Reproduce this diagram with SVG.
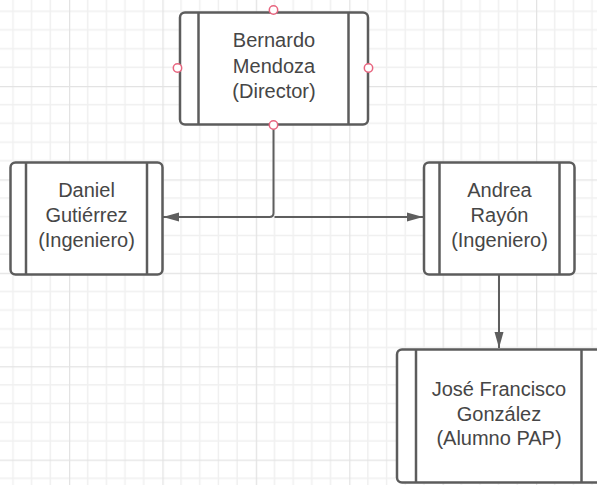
<svg xmlns="http://www.w3.org/2000/svg" width="597" height="485" viewBox="0 0 597 485">
<style>
.box{fill:#ffffff;stroke:#5c5c5c;stroke-width:2.5}
.bar{stroke:#5c5c5c;stroke-width:2.5}
.lbl{font-family:"Liberation Sans",Arial,sans-serif;font-size:20px;fill:#464646;text-anchor:middle}
.conn{fill:none;stroke:#5e5e5e;stroke-width:2}
.pt{fill:#ffffff;stroke:#e8657f;stroke-width:1.5}
</style>
<defs>
<pattern id="grid" patternUnits="userSpaceOnUse" x="69" y="86" width="93.4" height="93.4">
<path d="M18.68 0V93.4M37.36 0V93.4M56.04 0V93.4M74.72 0V93.4M0 18.68H93.4M0 37.36H93.4M0 56.04H93.4M0 74.72H93.4" stroke="#f0f0f0" stroke-width="1.5" fill="none"/>
<path d="M0.5 0V93.4M0 0.5H93.4" stroke="#e3e3e3" stroke-width="1.5" fill="none"/>
</pattern>
<marker id="arr" markerUnits="userSpaceOnUse" markerWidth="18" markerHeight="12" refX="16" refY="5" orient="auto">
<path d="M0,0.5 L16,5 L0,9.5 Z" fill="#5e5e5e"/>
</marker>
</defs>
<rect width="597" height="485" fill="#ffffff"/>
<rect width="597" height="485" fill="url(#grid)"/>

<g id="connectors">
<path class="conn" d="M273.5,125 V213 Q273.5,217 269.5,217 H163" marker-end="url(#arr)"/>
<path class="conn" d="M274.5,217 H423" marker-end="url(#arr)"/>
<path class="conn" d="M499,275 V348" marker-end="url(#arr)"/>
</g>

<g id="director">
<rect class="box" x="180" y="12.5" width="188" height="112" rx="5"/>
<line class="bar" x1="198.5" y1="12.5" x2="198.5" y2="124.5"/>
<line class="bar" x1="348.5" y1="12.5" x2="348.5" y2="124.5"/>
<text class="lbl" x="274" y="47">Bernardo</text>
<text class="lbl" x="274" y="73">Mendoza</text>
<text class="lbl" x="274" y="98">(Director)</text>
<circle class="pt" cx="273.5" cy="10" r="4.2"/>
<circle class="pt" cx="177.5" cy="68" r="4.2"/>
<circle class="pt" cx="368.5" cy="68" r="4.2"/>
<circle class="pt" cx="273.5" cy="125" r="4.2"/>
</g>

<g id="daniel">
<rect class="box" x="10.5" y="162.5" width="152" height="112" rx="5"/>
<line class="bar" x1="26" y1="162.5" x2="26" y2="274.5"/>
<line class="bar" x1="147" y1="162.5" x2="147" y2="274.5"/>
<text class="lbl" x="86.5" y="197">Daniel</text>
<text class="lbl" x="86.5" y="222">Gutiérrez</text>
<text class="lbl" x="86.5" y="247">(Ingeniero)</text>
</g>

<g id="andrea">
<rect class="box" x="424" y="162.5" width="150.5" height="112" rx="5"/>
<line class="bar" x1="439.5" y1="162.5" x2="439.5" y2="274.5"/>
<line class="bar" x1="559.5" y1="162.5" x2="559.5" y2="274.5"/>
<text class="lbl" x="499.5" y="197">Andrea</text>
<text class="lbl" x="499.5" y="222">Rayón</text>
<text class="lbl" x="499.5" y="247">(Ingeniero)</text>
</g>

<g id="jose">
<rect class="box" x="397" y="349.5" width="205" height="133" rx="5"/>
<line class="bar" x1="416" y1="349.5" x2="416" y2="482.5"/>
<line class="bar" x1="581.5" y1="349.5" x2="581.5" y2="482.5"/>
<text class="lbl" x="499" y="396">José Francisco</text>
<text class="lbl" x="499" y="421">González</text>
<text class="lbl" x="499" y="445">(Alumno PAP)</text>
</g>
</svg>
